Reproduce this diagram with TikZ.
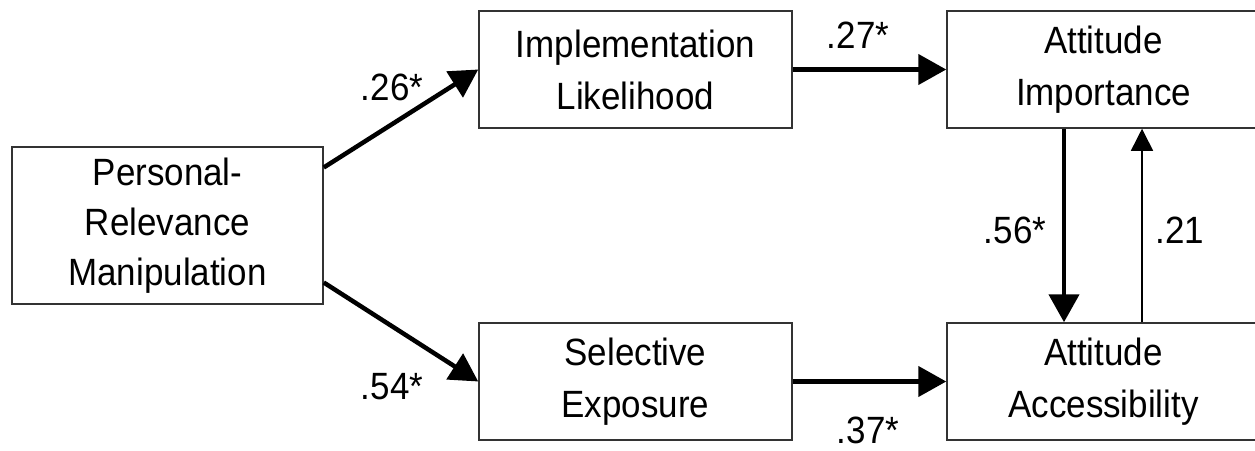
\documentclass[tikz,border=0pt]{standalone}
\usepackage{fontspec}
\setmainfont{Liberation Sans}
\newfontfamily\narrowsans[FakeStretch=0.92]{Liberation Sans}
\usetikzlibrary{arrows.meta}
\tikzset{
  box/.style={draw=black!80, line width=1.5pt, minimum width=313pt, minimum height=117pt,
    align=center, inner sep=0pt, font=\narrowsans\fontsize{38}{52}\selectfont},
  path/.style={line width=4.5pt, -{Triangle[length=28pt,width=30pt]}},
  weak/.style={line width=1.5pt, -{Triangle[length=22pt,width=22pt]}},
  coef/.style={font=\narrowsans\fontsize{38}{40}\selectfont, inner sep=0pt}
}
\begin{document}
\begin{tikzpicture}[x=1pt,y=-1pt]
    \useasboundingbox (0,0) rectangle (1255,450);
    \node[box, minimum width=311pt, minimum height=157pt, font=\narrowsans\fontsize{38}{50}\selectfont] (prm) at (167.5,225.5) {Personal-\\Relevance\\Manipulation};
    \node[box] (impl) at (635.5,69.5) {Implementation\\Likelihood};
    \node[box] (imp) at (1103.5,69.5) {Attitude\\Importance};
    \node[box] (sel) at (635.5,381.5) {Selective\\Exposure};
    \node[box] (acc) at (1103.5,381.5) {Attitude\\Accessibility};
    \draw[path] ([yshift=58pt]prm.east) -- (impl.west);
    \draw[path] ([yshift=-57pt]prm.east) -- (sel.west);
    \draw[path] (impl) -- (imp);
    \draw[path] (sel) -- (acc);
    \draw[path] ([xshift=-39.5pt]imp.south) -- ([xshift=-39.5pt]acc.north);
    \draw[weak] ([xshift=38.5pt]acc.north) -- ([xshift=38.5pt]imp.south);
    \node[coef] (c26) at (392,87) {.26*};
    \node[coef] (c54) at (392,387) {.54*};
    \node[coef] (c27) at (858,35) {.27*};
    \node[coef] (c37) at (868,430) {.37*};
    \node[coef] (c56) at (1015,230) {.56*};
    \node[coef] (c21) at (1180,230) {.21};
\end{tikzpicture}
\end{document}
